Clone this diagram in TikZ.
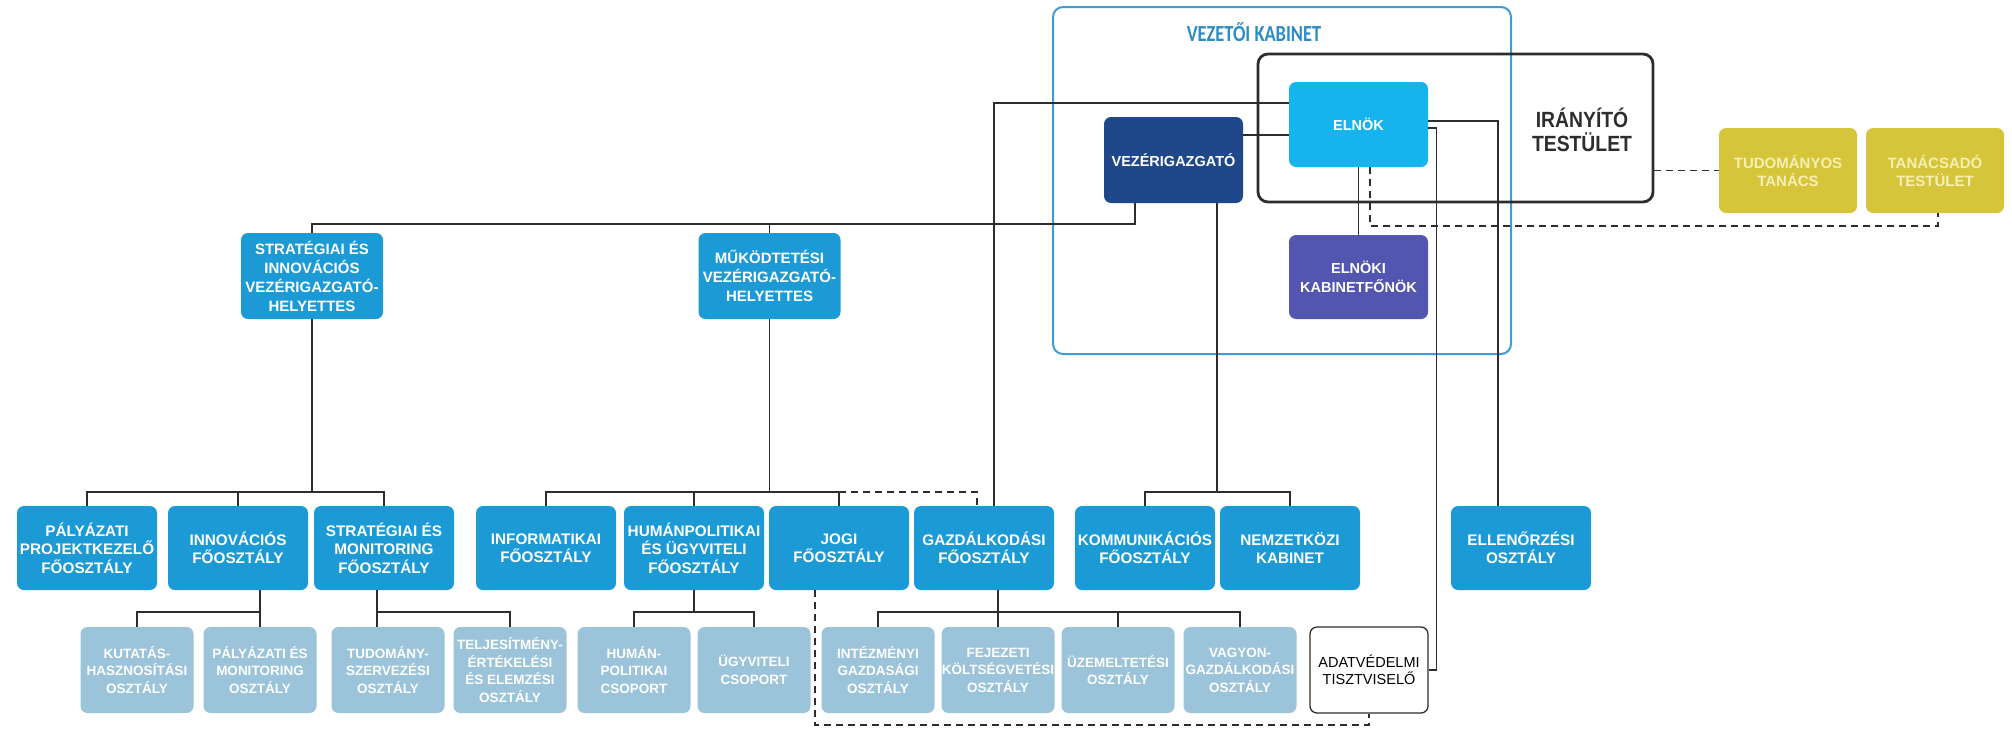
\documentclass[tikz,border=0pt]{standalone}
\usepackage{fontspec}
\setmainfont{Liberation Sans}
\newfontfamily\narrowfont[FakeStretch=0.88]{Liberation Sans}
\newfontfamily\titlefont[FakeStretch=0.8]{Carlito}
\usepackage{tikz}

\definecolor{mainblue}{RGB}{27,154,214}
\definecolor{subblue}{RGB}{155,195,218}
\definecolor{elnokcyan}{RGB}{22,180,238}
\definecolor{vezernavy}{RGB}{31,72,138}
\definecolor{kabviolet}{RGB}{82,86,176}
\definecolor{tanacsyellow}{RGB}{214,196,58}
\definecolor{tanacstext}{RGB}{246,240,180}
\definecolor{kabblue}{RGB}{62,156,210}
\definecolor{titleblue}{RGB}{44,140,196}
\definecolor{linegray}{RGB}{45,45,45}

\begin{document}
\begin{tikzpicture}[x=1pt,y=-1pt,
        box/.style={rounded corners=7pt,align=center,inner sep=0pt,text=white},
        frame/.style={rounded corners=10pt,inner sep=0pt},
        top/.style={box,minimum width=139pt,minimum height=85pt,font=\bfseries\fontsize{14.5}{19}\selectfont},
        tanacs/.style={box,fill=tanacsyellow,text=tanacstext,minimum width=138pt,minimum height=85pt,font=\bfseries\fontsize{15}{18}\selectfont},
        helyettes/.style={box,fill=mainblue,minimum width=142pt,minimum height=86pt,font=\bfseries\fontsize{15}{19}\selectfont},
        fo/.style={box,fill=mainblue,minimum width=140pt,minimum height=84pt,font=\bfseries\fontsize{15.3}{18.5}\selectfont},
        oszt/.style={box,fill=subblue,minimum width=113pt,minimum height=86pt,font=\bfseries\fontsize{13.5}{17.5}\selectfont},
        conn/.style={line width=1.3pt,color=linegray},
        dashline/.style={line width=1.5pt,color=linegray,dash pattern=on 7pt off 5pt}]

        \fill[white] (0,0) rectangle (2012,728);
        \useasboundingbox (0,0) rectangle (2012,728);

        % frames
        \node[frame,draw=kabblue,line width=2pt,minimum width=458pt,minimum height=347pt] (kabinet) at (1282,180.5) {};
        \node[frame,draw=linegray,line width=2.8pt,minimum width=395pt,minimum height=148pt] (iranyito) at (1455.5,128) {};
        \node[text=titleblue,font=\titlefont\bfseries\fontsize{23}{23}\selectfont] (kabcim) at (1254,32) {VEZETŐI KABINET};
        \node[text=linegray,align=center,font=\narrowfont\bfseries\fontsize{22}{24}\selectfont] (ircim) at (1582,130) {IRÁNYÍTÓ\\TESTÜLET};

        \node[top,fill=elnokcyan] (elnok) at (1358.5,124.5) {ELNÖK};
        \node[top,fill=vezernavy,minimum height=86pt] (vezer) at (1173.5,160) {VEZÉRIGAZGATÓ};
        \node[top,fill=kabviolet,minimum height=84pt] (kabfonok) at (1358.5,277) {ELNÖKI\\KABINETFŐNÖK};
        \node[tanacs] (tudtanacs) at (1788,170.5) {TUDOMÁNYOS\\TANÁCS};
        \node[tanacs] (tanacsado) at (1935,170.5) {TANÁCSADÓ\\TESTÜLET};

        \node[helyettes] (strhely) at (312,276) {STRATÉGIAI ÉS\\INNOVÁCIÓS\\VEZÉRIGAZGATÓ-\\HELYETTES};
        \node[helyettes] (mukhely) at (769.5,276) {MŰKÖDTETÉSI\\VEZÉRIGAZGATÓ-\\HELYETTES};

        % foosztalyok
        \node[fo] (palyproj) at (87,548) {PÁLYÁZATI\\PROJEKTKEZELŐ\\FŐOSZTÁLY};
        \node[fo] (innov) at (238,548) {INNOVÁCIÓS\\FŐOSZTÁLY};
        \node[fo] (stratmon) at (384,548) {STRATÉGIAI ÉS\\MONITORING\\FŐOSZTÁLY};
        \node[fo] (info) at (546,548) {INFORMATIKAI\\FŐOSZTÁLY};
        \node[fo] (human) at (694,548) {HUMÁNPOLITIKAI\\ÉS ÜGYVITELI\\FŐOSZTÁLY};
        \node[fo] (jogi) at (839,548) {JOGI\\FŐOSZTÁLY};
        \node[fo] (gazd) at (984,548) {GAZDÁLKODÁSI\\FŐOSZTÁLY};
        \node[fo] (komm) at (1145,548) {KOMMUNIKÁCIÓS\\FŐOSZTÁLY};
        \node[fo] (nemz) at (1290,548) {NEMZETKÖZI\\KABINET};
        \node[fo] (ellen) at (1521,548) {ELLENŐRZÉSI\\OSZTÁLY};

        % osztalyok
        \node[oszt] (kutatas) at (137,670) {KUTATÁS-\\HASZNOSÍTÁSI\\OSZTÁLY};
        \node[oszt] (palymon) at (260,670) {PÁLYÁZATI ÉS\\MONITORING\\OSZTÁLY};
        \node[oszt] (tudszerv) at (388,670) {TUDOMÁNY-\\SZERVEZÉSI\\OSZTÁLY};
        \node[oszt] (teljes) at (510,670) {TELJESÍTMÉNY-\\ÉRTÉKELÉSI\\ÉS ELEMZÉSI\\OSZTÁLY};
        \node[oszt] (humcsop) at (634,670) {HUMÁN-\\POLITIKAI\\CSOPORT};
        \node[oszt] (ugycsop) at (754,670) {ÜGYVITELI\\CSOPORT};
        \node[oszt] (intezm) at (878,670) {INTÉZMÉNYI\\GAZDASÁGI\\OSZTÁLY};
        \node[oszt] (fejezeti) at (998,670) {FEJEZETI\\KÖLTSÉGVETÉSI\\OSZTÁLY};
        \node[oszt] (uzem) at (1118,670) {ÜZEMELTETÉSI\\OSZTÁLY};
        \node[oszt] (vagyon) at (1240,670) {VAGYON-\\GAZDÁLKODÁSI\\OSZTÁLY};
        \node[box,draw=linegray,line width=1.3pt,text=black,minimum width=118pt,minimum height=86pt,font=\fontsize{14.5}{17}\selectfont] (adat) at (1369,670) {ADATVÉDELMI\\TISZTVISELŐ};

        \coordinate (felsosin) at (0,224);
        \coordinate (szaggsin) at (0,226);
        \coordinate (kozepsin) at (0,492);
        \coordinate (alsosin) at (0,612);
        \coordinate (aljasin) at (0,725);

        % vezetes
        \draw[conn] ([xshift=-38.5pt]vezer.south) |- (strhely.north |- felsosin) -- (strhely.north);
        \draw[conn] (mukhely.north |- felsosin) -- (mukhely.north);
        \draw[conn] ([yshift=25pt]vezer.east) -- ([yshift=25pt]vezer.east -| elnok.west);
        \draw[conn] ([yshift=21.5pt]elnok.west) -| ([xshift=10pt]gazd.north);
        \draw[conn] (elnok.south) -- (kabfonok.north);
        \draw[conn] ([yshift=3.5pt]elnok.east) -| ([xshift=-23pt]ellen.north);
        \draw[conn] ([yshift=-3.5pt]elnok.east) -- ++(8,0) |- (adat.east);
        \draw[dashline] ([xshift=11.5pt]elnok.south) |- ([xshift=3pt]tanacsado.south |- szaggsin) -- ([xshift=3pt]tanacsado.south);
        \draw[dashline] (iranyito.east |- tudtanacs.west) -- (tudtanacs.west);

        \draw[conn] ([xshift=43.5pt]vezer.south) -- ([xshift=43.5pt]vezer.south |- kozepsin);
        \draw[conn] (komm.north) |- (nemz.north |- kozepsin) -- (nemz.north);

        \draw[conn] (strhely.south) -- (strhely.south |- kozepsin);
        \draw[conn] (palyproj.north) |- (stratmon.north |- kozepsin) -- (stratmon.north);
        \draw[conn] (innov.north) -- (innov.north |- kozepsin);

        \draw[conn] (mukhely.south) -- (mukhely.south |- kozepsin);
        \draw[conn] (info.north) |- (jogi.north |- kozepsin) -- (jogi.north);
        \draw[conn] (human.north) -- (human.north |- kozepsin);
        \draw[dashline] (jogi.north |- kozepsin) -| ([xshift=-7pt]gazd.north);

        % also szint
        \draw[conn] (palymon.north |- innov.south) -- (palymon.north);
        \draw[conn] (kutatas.north) |- (palymon.north |- alsosin);
        \draw[conn] ([xshift=-7pt]stratmon.south) -- ([xshift=-7pt]stratmon.south |- tudszerv.north);
        \draw[conn] ([xshift=-7pt]stratmon.south |- alsosin) -| (teljes.north);
        \draw[conn] (human.south) -- (human.south |- alsosin);
        \draw[conn] (humcsop.north) |- (ugycsop.north |- alsosin) -- (ugycsop.north);
        \draw[conn] (fejezeti.north |- gazd.south) -- (fejezeti.north);
        \draw[conn] (intezm.north) |- (vagyon.north |- alsosin) -- (vagyon.north);
        \draw[conn] (uzem.north) -- (uzem.north |- alsosin);
        \draw[dashline] ([xshift=-24pt]jogi.south) |- (adat.south |- aljasin) -- (adat.south);

\end{tikzpicture}
\end{document}
